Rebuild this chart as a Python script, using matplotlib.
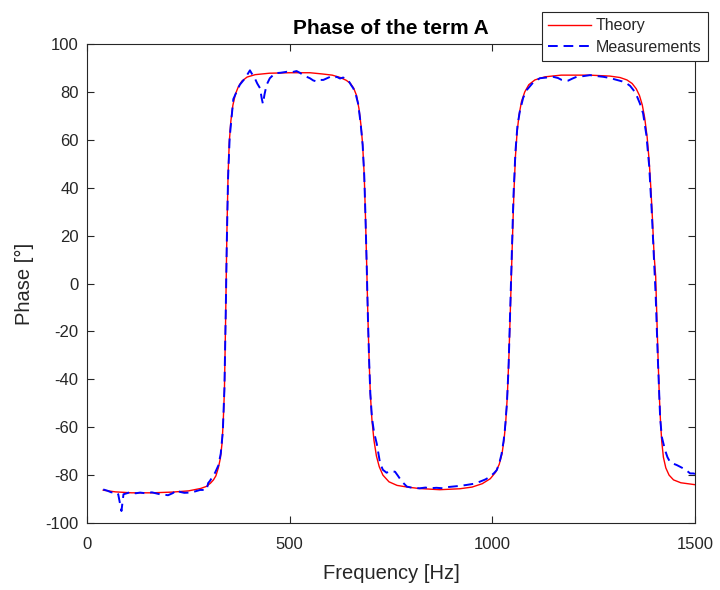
import matplotlib
matplotlib.use("Agg")
import matplotlib.pyplot as plt

plt.rcParams['font.family'] = ['Liberation Sans', 'DejaVu Sans']

# Theory curve
theory_freq = [40, 70, 110, 160, 210, 250, 280, 295, 305, 312, 318, 324, 329, 333, 336, 339,
               342, 345, 348, 351, 355, 360, 366, 373, 382, 395, 415, 450, 500, 550, 580,
               605, 625, 640, 650, 658, 665, 671, 676, 680, 684, 687, 690, 693, 696, 699,
               703, 708, 714, 721, 730, 745, 765, 790, 820, 870, 920, 950, 975, 995, 1008,
               1017, 1024, 1029, 1033, 1037, 1041, 1045, 1049, 1053, 1057, 1061, 1066, 1072,
               1080, 1090, 1105, 1130, 1170, 1240, 1290, 1315, 1332, 1345, 1355, 1363, 1370,
               1376, 1382, 1387, 1391, 1395, 1399, 1403, 1406, 1409, 1412, 1415, 1418, 1422,
               1428, 1436, 1447, 1465, 1500]
theory_phase = [-86.3, -87, -87.4, -87.4, -87.1, -86.6, -85.6, -84.7, -83.3, -82, -80.3, -77,
                -73, -67, -58, -45, -15, 20, 45, 59, 68, 74.5, 79, 82, 84.5, 86.2, 87.2, 87.8,
                88, 88, 87.5, 87, 86, 84.8, 83.5, 81.5, 78.5, 73, 66, 58, 45, 28, 8, -14, -32,
                -46, -57, -65.5, -72, -76.5, -80, -82.8, -84.3, -85, -85.6, -86.1, -85.7, -85,
                -83.6, -81.5, -78.8, -75.5, -71, -65, -58, -47, -30, -8, 15, 37, 53, 63, 70.5,
                76, 80, 83, 85, 86.3, 87, 87, 86.6, 86, 85, 83.5, 81.3, 78.5, 74.5, 69, 61, 51,
                40, 27, 12, 3, -15, -32, -47, -58, -66, -72.5, -77, -80, -82, -83.2, -84]

meas_freq = [40, 50, 60, 70, 77, 85, 90, 100, 110, 120, 131, 145, 160, 180, 200, 212, 221, 229,
             240, 254, 267, 279, 295, 299, 303, 316, 324, 330, 335, 339, 342, 345, 348, 352,
             361, 377, 390, 402, 406, 414, 420, 427, 431, 434, 438, 443, 451, 464, 478, 493,
             505, 517, 525, 534, 542, 550, 558, 567, 575, 583, 591, 600, 608, 616, 624, 632,
             644, 651, 657, 663, 669, 675, 680, 684, 687, 690, 693, 696, 699, 703, 708, 715,
             720, 723, 730, 739, 748, 760, 768, 776, 789, 805, 821, 835, 846, 862, 878, 890,
             903, 920, 937, 955, 970, 983, 994, 1004, 1011, 1018, 1023, 1028, 1031, 1036,
             1040, 1044, 1048, 1052, 1057, 1062, 1068, 1076, 1085, 1100, 1117, 1133, 1150,
             1162, 1171, 1180, 1187, 1198, 1208, 1225, 1241, 1258, 1274, 1290, 1307, 1320,
             1331, 1340, 1348, 1356, 1364, 1372, 1380, 1387, 1393, 1398, 1403, 1408, 1414,
             1418, 1426, 1432, 1438, 1446, 1455, 1463, 1471, 1480, 1488, 1496, 1500]
meas_phase = [-86, -86.5, -87.2, -87, -88, -95, -88, -87.5, -87, -87.6, -87.3, -87.6, -87.2,
              -88, -88.4, -87.5, -86.2, -87, -87.4, -87.3, -86.8, -86.2, -86.2, -83.3, -82.5,
              -79, -76, -71, -62, -44, -15, 18, 44, 61, 77, 83, 85.7, 89, 87.8, 85.7, 83.5,
              81.5, 77.3, 75, 79, 82.9, 85.7, 87.8, 88, 88.4, 88.2, 88.7, 88, 87, 86.3, 85.7,
              84.8, 84.3, 85, 85, 85.6, 86.3, 85.8, 86.3, 85.6, 86, 85, 83, 81.5, 79, 75,
              67, 58, 45, 28, 8, -14, -32, -46, -56, -62, -67, -72, -75, -77.8, -79, -78.3,
              -78.6, -80.5, -82.5, -84.8, -85.4, -85.5, -85.2, -85.5, -85.3, -85.5, -85,
              -84.8, -84.5, -84.1, -83.6, -82.7, -81.8, -80.7, -79.2, -77.9, -74.5, -71, -65.5,
              -61, -50, -35, -12, 12, 36, 55, 66, 72, 77.5, 80.8, 83.8, 85.7, 86, 86.3, 85.8,
              85, 84.6, 84.7, 85.6, 86.3, 86.6, 87, 86.6, 86.3, 85.8, 85, 84.4, 83.6, 82.5,
              80.8, 78.5, 75.2, 71, 62, 49, 31, 13, -5, -30, -56, -64, -69.5, -72.5, -74.4,
              -75.2, -75.8, -76.5, -77.2, -78.2, -79.3, -79.3, -79.5]

x_ticks = [0, 500, 1000, 1500]
y_ticks = [-100, -80, -60, -40, -20, 0, 20, 40, 60, 80, 100]

fig = plt.figure(figsize=(7.2, 5.9), dpi=100)
ax = fig.add_axes([87/720, 1 - 523/590, (695 - 87)/720, (523 - 44)/590])

ax.plot(theory_freq, theory_phase, color=(1, 0, 0), lw=1.0, label='Theory', zorder=2)
ax.plot(meas_freq, meas_phase, color=(0, 0, 1), lw=1.4, ls=(0, (5, 3)),
        label='Measurements', zorder=3)

ax.set_xlim(0, 1500)
ax.set_ylim(-100, 100)
ax.set_xticks(x_ticks)
ax.set_yticks(y_ticks)
ax.set_xticklabels([str(v) for v in x_ticks])
ax.set_yticklabels([str(v) for v in y_ticks])

dark = '#262626'
for s in ax.spines.values():
    s.set_color(dark)
    s.set_linewidth(0.8)
ax.tick_params(axis='both', direction='in', length=5, width=0.8, colors=dark,
               labelsize=12, top=True, right=True, labelcolor=dark)
ax.tick_params(axis='x', pad=10)
ax.tick_params(axis='y', pad=6)

ax.set_xlabel('Frequency [Hz]', fontsize=14.5, color=dark, labelpad=9)
ax.set_ylabel('Phase [°]', fontsize=14.5, color=dark, labelpad=8)
ax.set_title('Phase of the term A', fontsize=15, fontweight='bold', color='black', pad=7)

leg = ax.legend(loc='upper right', bbox_to_anchor=(708/720, 1 - 12/590),
                bbox_transform=fig.transFigure, borderaxespad=0, fontsize=11.5,
                frameon=True, fancybox=False, edgecolor=dark, framealpha=1,
                handlelength=2.7, handletextpad=0.3, borderpad=0.4, labelspacing=0.4)
leg.get_frame().set_linewidth(0.8)
for t in leg.get_texts():
    t.set_color(dark)

fig.savefig('out.png', dpi=100, facecolor='white')
